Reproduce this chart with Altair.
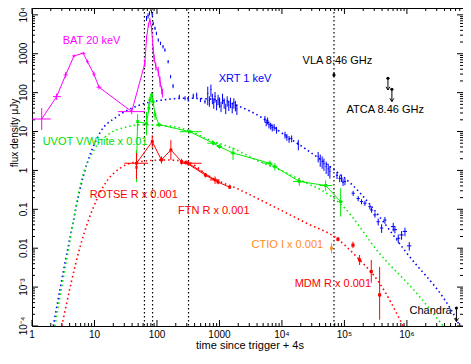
import altair as alt
import pandas as pd

# ---------------- axes ----------------
X_DOMAIN = [1, 7.9e6]
Y_DOMAIN = [1e-4, 1.5e4]
x_tick_values = [1, 10, 100, 1000, 1e4, 1e5, 1e6]
x_tick_labels = ["1", "10", "100", "1000", "10⁴", "10⁵", "10⁶"]
y_tick_values = [1e-4, 1e-3, 0.01, 0.1, 1, 10, 100, 1000, 1e4]
y_tick_labels = ["10⁻⁴", "10⁻³", "0.01", "0.1", "1", "10", "100", "1000", "10⁴"]
x_title = "time since trigger  + 4s"
y_title = "flux density μJy"
x_major = [1, 10, 100, 1e3, 1e4, 1e5, 1e6]
x_minor = [m * 10 ** k for k in range(7) for m in range(2, 10) if m * 10 ** k < 7.9e6]
y_major = [1e-4, 1e-3, 0.01, 0.1, 1, 10, 100, 1000, 1e4]
y_minor = [m * 10.0 ** k for k in range(-4, 5) for m in range(2, 10) if m * 10.0 ** k < 1.5e4]

# ---------------- BAT 20 keV ----------------
bat_t   = [1.43, 2.48, 3.46, 4.7, 6.6, 7.7, 9.8, 11.8, 39.4, 64, 68, 73, 77, 82, 87, 90, 96, 105, 112, 119, 123]
bat_f   = [21, 79, 285, 880, 1030, 630, 300, 138, 32.5, 570, 2500, 5500, 7400, 4500, 1250, 765, 470, 347, 190, 117, 97]
bat_tlo = [1.0, 2.17, 3.2, 4.4, 6.0, 7.3, 9.2, 10.8, 23.7, 63, 67, 72, 76, 81, 86, 89, 95, 103, 110, 117, 121]
bat_thi = [2.0, 2.9, 3.75, 5.0, 7.2, 8.1, 10.4, 13.0, 64, 65, 69, 74, 78, 83, 88, 91, 97, 107, 114, 121, 125]
bat_flo = [11, 65, 240, 800, 950, 560, 260, 120, 28, 450, 2100, 4800, 6500, 3800, 1000, 600, 370, 260, 140, 90, 75]
bat_fhi = [40, 95, 340, 960, 1120, 700, 345, 160, 38, 700, 2900, 6300, 8400, 5300, 1550, 950, 590, 460, 260, 150, 125]

# ---------------- XRT 1 keV ----------------
xrt_t = [68, 72, 76, 82, 84, 87, 93, 98, 105, 114, 125, 134, 151, 165, 181, 228, 281, 316, 381, 432, 497, 587,
         650, 690, 730, 770, 810, 850, 900, 950, 1000, 1060, 1120, 1190, 1260, 1330, 1410, 1500, 1600, 1700, 1800, 1900,
         5350, 5600, 5900, 6200, 6600, 7000, 7500, 8200,
         11200, 12000, 13000, 14300, 18300,
         38000, 41000, 44000, 47000, 51000, 55000, 58500,
         76000, 84000, 90000, 95000, 102000,
         138000, 166000, 188000, 213000, 256000, 272000, 308000, 347000, 394000, 445000,
         604000, 643000, 727000, 822000, 930000, 1090000]
xrt_f = [8180, 9500, 11000, 12000, 10000, 6080, 4520, 3360, 2260, 1860, 1520, 1250, 627, 257, 148, 79, 72, 68, 82, 87, 65, 59,
         95, 62, 120, 72, 55, 80, 50, 68, 58, 45, 72, 55, 40, 62, 48, 57, 42, 55, 47, 38,
         21, 17, 19, 15, 14, 12.5, 13, 11,
         8.2, 7.2, 6.4, 6.6, 4.7,
         2.3, 1.9, 1.7, 1.5, 1.25, 1.1, 0.95,
         0.75, 0.62, 0.63, 0.5, 0.52,
         0.26, 0.19, 0.158, 0.144, 0.117, 0.096, 0.072, 0.048, 0.033, 0.053,
         0.036, 0.030, 0.018, 0.022, 0.027, 0.0115]
xrt_ferr = [0.15, 0.15, 0.12, 0.1, 0.1, 0.1, 0.1, 0.1, 0.1, 0.1, 0.1, 0.1, 0.1, 0.1, 0.12, 0.12, 0.12, 0.12, 0.15, 0.15, 0.12, 0.12,
            0.5, 0.3, 0.35, 0.3, 0.3, 0.3, 0.3, 0.3, 0.3, 0.3, 0.3, 0.3, 0.3, 0.3, 0.3, 0.3, 0.3, 0.3, 0.3, 0.3,
            0.2, 0.2, 0.2, 0.2, 0.2, 0.2, 0.2, 0.2,
            0.2, 0.2, 0.2, 0.2, 0.3,
            0.3, 0.35, 0.35, 0.35, 0.35, 0.35, 0.35,
            0.2, 0.2, 0.2, 0.2, 0.2,
            0.15, 0.15, 0.15, 0.15, 0.15, 0.15, 0.15, 0.2, 0.25, 0.2,
            0.25, 0.2, 0.25, 0.25, 0.25, 0.25]
xrt_terr = [0.02] * 22 + [0.02] * 20 + [0.03] * 8 + [0.03] * 5 + [0.02] * 7 + [0.04] * 5 + [0.06] * 10 + [0.08] * 6

# ---------------- UVOT V/White x 0.01 ----------------
uv_t   = [47, 49, 68, 74, 77, 82, 87, 93, 108, 335, 800, 1000, 1650, 6400, 7700, 19000, 50000, 87000]
uv_f   = [1.2, 18, 16, 40, 65, 87, 58, 27, 15, 9.9, 5.0, 4.1, 2.8, 1.53, 1.25, 0.52, 0.41, 0.157]
uv_tlo = [45, 48, 67, 73, 76, 81, 86, 92, 100, 233, 640, 900, 1500, 5000, 7000, 15000, 40000, 80000]
uv_thi = [49, 50, 69, 75, 78, 83, 88, 94, 118, 520, 950, 1100, 1800, 7000, 8500, 23000, 64000, 95000]
uv_flo = [0.5, 11, 8, 30, 50, 70, 45, 20, 13, 9.0, 4.4, 3.6, 1.86, 1.3, 1.0, 0.4, 0.3, 0.065]
uv_fhi = [3.3, 28, 32, 52, 80, 105, 72, 34, 17, 11, 5.7, 4.7, 3.8, 1.8, 1.55, 0.65, 0.55, 0.35]

# ---------------- ROTSE R x 0.001 ----------------
ro_t   = [47, 84, 118, 167, 248, 316, 850]
ro_f   = [1.53, 5.5, 1.86, 3.37, 1.68, 1.53, 0.57]
ro_tlo = [30, 80, 108, 160, 235, 233, 700]
ro_thi = [72, 88, 128, 175, 262, 520, 1000]
ro_flo = [0.6, 3.8, 1.5, 1.86, 1.4, 1.3, 0.45]
ro_fhi = [2.8, 8.0, 2.3, 6.0, 2.0, 1.8, 0.7]

# ---------------- FTN R x 0.001 ----------------
ftn_t   = [290, 600, 950, 1460]
ftn_f   = [1.6, 0.75, 0.5, 0.37]
ftn_tlo = [270, 560, 900, 1400]
ftn_thi = [310, 640, 1000, 1520]
ftn_flo = [1.4, 0.66, 0.44, 0.33]
ftn_fhi = [1.8, 0.85, 0.57, 0.42]

# ---------------- MDM R x 0.001 ----------------
mdm_t   = [78700, 137000, 175000, 269000, 366000]
mdm_f   = [0.017, 0.012, 0.005, 0.0025, 0.00063]
mdm_flo = [0.015, 0.010, 0.0037, 0.0013, 0.000145]
mdm_fhi = [0.0195, 0.0147, 0.0067, 0.005, 0.0033]

# ---------------- CTIO I x 0.001 ----------------
ctio_t   = [62000]
ctio_f   = [0.010]
ctio_flo = [0.0074]
ctio_fhi = [0.0134]

# ---------------- radio / Chandra ----------------
vla_t = [68000]
vla_f = [285]
vla_flo = [255]
vla_fhi = [320]
ul_t   = [4.97e5, 5.75e5, 6.2e6]
ul_f   = [234, 122, 2.9e-4]
ul_tip = [117, 59, 1.3e-4]

# ---------------- models (dotted) ----------------
mx_t = [2.19, 3.8, 6.6, 12.2, 22.7, 53, 126, 300, 1000, 2100, 4500, 9300, 25000, 59000, 125000, 1e6, 6.3e6, 7e6]
mx_f = [1e-4, 0.011, 0.69, 9.2, 24, 48, 65, 72, 65, 44, 24, 9.9, 3.4, 1.25, 0.47, 0.0074, 1.4e-4, 1e-4]
mu_t = [2.33, 3.9, 6.2, 10, 17.7, 32, 60, 150, 300, 700, 1650, 4000, 9300, 25000, 50000, 96000, 3.6e5, 1.43e6, 3.8e6]
mu_f = [1e-4, 0.011, 0.57, 3.5, 9, 13, 15, 14, 11, 6, 3.7, 1.8, 1.03, 0.47, 0.27, 0.117, 0.0075, 7e-4, 1e-4]
mr_t = [3.0, 5.9, 10.8, 15.6, 25.7, 41.7, 143, 300, 700, 2130, 7250, 24800, 75000, 157000, 3.6e5, 8.7e5]
mr_f = [1e-4, 0.011, 0.175, 0.52, 1.14, 1.6, 1.86, 1.68, 0.69, 0.315, 0.119, 0.044, 0.018, 0.006, 0.0013, 1e-4]

# vertical dotted lines
vline_t = [63, 85, 320, 68000]

# ---------------- labels ----------------
lab_text  = ["BAT 20 keV", "XRT 1 keV", "UVOT V/White x 0.01", "ROTSE R x 0.001", "FTN R x 0.001",
             "CTIO I x 0.001", "MDM R x 0.001", "VLA 8.46 GHz", "ATCA 8.46 GHz", "Chandra"]
lab_t     = [3.1, 970, 1.48, 8.4, 217, 3270, 16000, 21400, 108000, 1.1e6]
lab_f     = [2170, 225, 5.5, 0.235, 0.093, 0.0122, 0.00119, 665, 36, 2.5e-4]
lab_color = ["#ff00ff", "#0000ff", "#00e000", "#ff0000", "#ff0000", "#ff8c1a", "#ff0000", "#000000", "#000000", "#000000"]

MAGENTA = "#ff00ff"
BLUE = "#0000ff"
GREEN = "#00ee00"
RED = "#ff0000"
ORANGE = "#ff8c1a"
FONT = "Liberation Sans"
W, H = 431, 318

xs = alt.Scale(type="log", domain=X_DOMAIN, nice=False)
ys = alt.Scale(type="log", domain=Y_DOMAIN, nice=False)


def X(field="t"):
    return alt.X(f"{field}:Q", scale=xs, axis=None)


def Y(field="f"):
    return alt.Y(f"{field}:Q", scale=ys, axis=None)


def errdf(t, f, tlo=None, thi=None, flo=None, fhi=None):
    d = pd.DataFrame({"t": t, "f": f})
    d["tlo"] = tlo if tlo is not None else t
    d["thi"] = thi if thi is not None else t
    d["flo"] = flo if flo is not None else f
    d["fhi"] = fhi if fhi is not None else f
    return d


def errbars(d, color, width=1.0):
    v = alt.Chart(d).mark_rule(color=color, strokeWidth=width).encode(x=X("t"), y=Y("flo"), y2="fhi")
    h = alt.Chart(d).mark_rule(color=color, strokeWidth=width).encode(x=X("tlo"), x2="thi", y=Y("f"))
    return [v, h]


layers = []

# ticks (inward, all four sides)
xmaj = pd.DataFrame({"v": x_major})
xmin = pd.DataFrame({"v": x_minor})
ymaj = pd.DataFrame({"v": y_major})
ymin = pd.DataFrame({"v": y_minor})
for d, L in ((xmaj, 6), (xmin, 3)):
    layers.append(alt.Chart(d).mark_rule(color="black").encode(x=X("v"), y=alt.value(H), y2=alt.value(H - L)))
    layers.append(alt.Chart(d).mark_rule(color="black").encode(x=X("v"), y=alt.value(0), y2=alt.value(L)))
for d, L in ((ymaj, 6), (ymin, 3)):
    layers.append(alt.Chart(d).mark_rule(color="black").encode(y=Y("v"), x=alt.value(0), x2=alt.value(L)))
    layers.append(alt.Chart(d).mark_rule(color="black").encode(y=Y("v"), x=alt.value(W), x2=alt.value(W - L)))

# tick labels and axis titles (as text)
xl = pd.DataFrame({"v": x_tick_values, "s": x_tick_labels})
yl = pd.DataFrame({"v": y_tick_values, "s": y_tick_labels})
layers.append(alt.Chart(xl).mark_text(font=FONT, fontSize=10, baseline="top", align="center", color="black")
              .encode(x=X("v"), y=alt.value(H + 4), text="s:N"))
layers.append(alt.Chart(yl).mark_text(font=FONT, fontSize=10, baseline="bottom", align="center", angle=270,
                                      color="black")
              .encode(y=Y("v"), x=alt.value(-3), text="s:N"))
layers.append(alt.Chart(pd.DataFrame({"s": [x_title]})).mark_text(font=FONT, fontSize=11, baseline="middle",
                                                                    align="center", color="black")
              .encode(x=alt.value(218), y=alt.value(H + 20), text="s:N"))
layers.append(alt.Chart(pd.DataFrame({"s": [y_title]})).mark_text(font=FONT, fontSize=10, baseline="middle",
                                                                    align="center", angle=270, color="black")
              .encode(x=alt.value(-17.5), y=alt.value(125), text="s:N"))

# vertical dotted lines
layers.append(alt.Chart(pd.DataFrame({"t": vline_t})).mark_rule(color="black", strokeDash=[1.5, 2.5], strokeWidth=1.2)
              .encode(x=X("t"), y=alt.value(0), y2=alt.value(H)))

# models
for mt, mf, c in ((mx_t, mx_f, BLUE), (mu_t, mu_f, GREEN), (mr_t, mr_f, RED)):
    layers.append(alt.Chart(pd.DataFrame({"t": mt, "f": mf})).mark_line(
        color=c, strokeDash=[1.5, 3], strokeWidth=1.6, interpolate="monotone", clip=True)
        .encode(x=X("t"), y=Y("f")))

# BAT
bat = errdf(bat_t, bat_f, bat_tlo, bat_thi, bat_flo, bat_fhi)
layers.append(alt.Chart(bat).mark_line(color=MAGENTA, strokeWidth=1).encode(x=X("t"), y=Y("f")))
layers += errbars(bat, MAGENTA)

# XRT
xrt = pd.DataFrame({"t": xrt_t, "f": xrt_f, "fe": xrt_ferr, "te": xrt_terr})
xrt["flo"] = xrt["f"] * (1 - xrt["fe"])
xrt["fhi"] = xrt["f"] * (1 + xrt["fe"])
xrt["tlo"] = xrt["t"] * (1 - xrt["te"])
xrt["thi"] = xrt["t"] * (1 + xrt["te"])
layers += errbars(xrt, BLUE)

# UVOT
uv = errdf(uv_t, uv_f, uv_tlo, uv_thi, uv_flo, uv_fhi)
layers.append(alt.Chart(uv).mark_line(color=GREEN, strokeWidth=1).encode(x=X("t"), y=Y("f")))
layers += errbars(uv, GREEN)
layers.append(alt.Chart(uv).mark_point(color=GREEN, filled=True, shape="square", size=8, opacity=1)
              .encode(x=X("t"), y=Y("f")))

# ROTSE
ro = errdf(ro_t, ro_f, ro_tlo, ro_thi, ro_flo, ro_fhi)
layers.append(alt.Chart(ro).mark_line(color=RED, strokeWidth=1).encode(x=X("t"), y=Y("f")))
layers += errbars(ro, RED)
layers.append(alt.Chart(ro).mark_point(color=RED, filled=True, shape="square", size=8, opacity=1)
              .encode(x=X("t"), y=Y("f")))

# FTN
ftn = errdf(ftn_t, ftn_f, ftn_tlo, ftn_thi, ftn_flo, ftn_fhi)
layers.append(alt.Chart(ftn).mark_line(color=RED, strokeWidth=1).encode(x=X("t"), y=Y("f")))
layers += errbars(ftn, RED)
layers.append(alt.Chart(ftn).mark_point(color=RED, filled=True, shape="square", size=8, opacity=1)
              .encode(x=X("t"), y=Y("f")))

# MDM
mdm = errdf(mdm_t, mdm_f, None, None, mdm_flo, mdm_fhi)
layers += errbars(mdm, RED)
layers.append(alt.Chart(mdm).mark_point(color=RED, filled=True, shape="square", size=10, opacity=1)
              .encode(x=X("t"), y=Y("f")))

# CTIO
ctio = errdf(ctio_t, ctio_f, None, None, ctio_flo, ctio_fhi)
layers += errbars(ctio, ORANGE)
layers.append(alt.Chart(ctio).mark_point(color=ORANGE, filled=True, shape="square", size=8, opacity=1)
              .encode(x=X("t"), y=Y("f")))

# VLA
vla = errdf(vla_t, vla_f, None, None, vla_flo, vla_fhi)
layers += errbars(vla, "black")
layers.append(alt.Chart(vla).mark_point(color="black", filled=True, shape="circle", size=10, opacity=1)
              .encode(x=X("t"), y=Y("f")))

# upper limits
ul = pd.DataFrame({"t": ul_t, "f": ul_f, "tip": ul_tip})
layers.append(alt.Chart(ul).mark_rule(color="black").encode(x=X("t"), y=Y("f"), y2="tip"))
layers.append(alt.Chart(ul).mark_point(color="black", filled=True, shape="circle", size=10, opacity=1)
              .encode(x=X("t"), y=Y("f")))
layers.append(alt.Chart(ul).mark_point(color="black", filled=False, shape="M-1,-1.6L0,0L1,-1.6",
                                       size=16, strokeWidth=1, opacity=1)
              .encode(x=X("t"), y=Y("tip")))

# labels
labs = pd.DataFrame({"text": lab_text, "t": lab_t, "f": lab_f, "c": lab_color})
layers.append(alt.Chart(labs).mark_text(align="left", baseline="middle", font=FONT, fontSize=11)
              .encode(x=X("t"), y=Y("f"), text="text:N", color=alt.Color("c:N", scale=None)))

chart = alt.layer(*layers).properties(
    width=W, height=H,
    padding={"left": 24, "top": 0, "right": 0, "bottom": 26},
    autosize=alt.AutoSizeParams(type="none"),
).configure_view(stroke="black", strokeWidth=1)

chart.save("out.html", embed_options={"renderer": "svg", "actions": False})
